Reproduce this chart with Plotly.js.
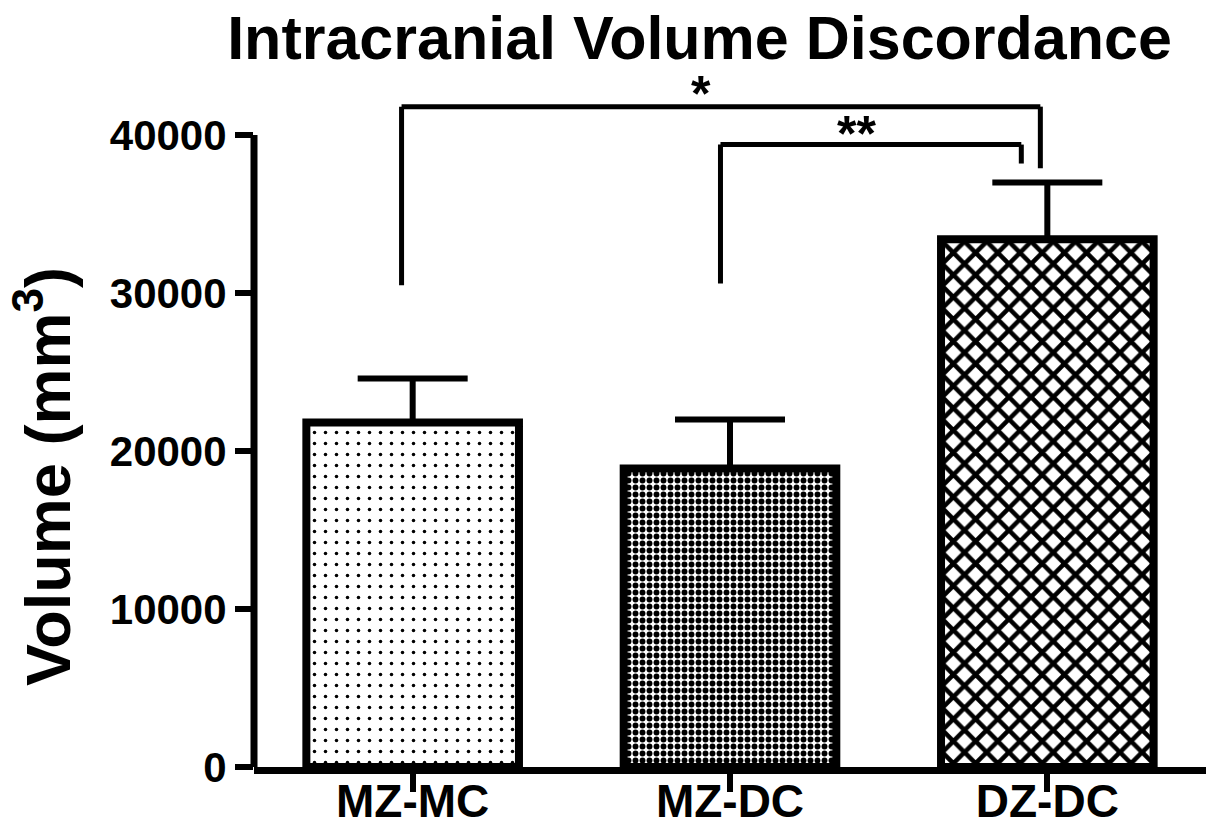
<!DOCTYPE html>
<html>
<head>
<meta charset="utf-8">
<script src="https://cdn.plot.ly/plotly-3.0.1.min.js"></script>
<style>
  html, body { margin: 0; padding: 0; background: #ffffff; }
  #chart { width: 1212px; height: 837px; }
</style>
</head>
<body>
<div id="chart"></div>
<script>
// ---- data ----
const categories = ['MZ-MC', 'MZ-DC', 'DZ-DC'];
const meanVolume = [21800, 18900, 33400];
const errorUp = [2800, 3100, 3600];
const yTickValues = [0, 10000, 20000, 30000, 40000];
const yTickLabels = ['0', '10000', '20000', '30000', '40000'];
const sigLabels = ['*', '**'];

// ---- bracket geometry (annotation layout) ----
const bracketGeom = [
  { x0: -0.035, x1: 1.978, top: 41800, leftBottom: 30500, rightBottom: 37900, labelX: 0.91, labelY: 42600 },
  { x0: 0.97, x1: 1.918, top: 39400, leftBottom: 30600, rightBottom: 38200, labelX: 1.40, labelY: 40100 }
];

const FONT = 'Liberation Sans, Arial, sans-serif';

const barTrace = {
  type: 'bar',
  x: categories,
  y: meanVolume,
  width: 0.67,
  marker: {
    color: '#ffffff',
    line: { color: '#000000', width: 8 },
    pattern: {
      shape: ['.', '.', 'x'],
      size: [11, 7, 15.7],
      solidity: [0.08, 0.55, 0.5],
      fgcolor: '#000000',
      bgcolor: '#ffffff',
      fillmode: 'replace'
    }
  },
  error_y: {
    type: 'data',
    symmetric: false,
    array: errorUp,
    arrayminus: errorUp.map(() => 0),
    color: '#000000',
    thickness: 6,
    width: 55
  },
  hoverinfo: 'none',
  showlegend: false
};

const shapes = [];
const annotations = [];
bracketGeom.forEach((b, i) => {
  const lineStyle = { color: '#000000', width: 5 };
  shapes.push({ type: 'line', xref: 'x', yref: 'y', x0: b.x0, x1: b.x1, y0: b.top, y1: b.top, line: lineStyle });
  shapes.push({ type: 'line', xref: 'x', yref: 'y', x0: b.x0, x1: b.x0, y0: b.top, y1: b.leftBottom, line: lineStyle });
  shapes.push({ type: 'line', xref: 'x', yref: 'y', x0: b.x1, x1: b.x1, y0: b.top, y1: b.rightBottom, line: lineStyle });
  annotations.push({
    xref: 'x', yref: 'y', x: b.labelX, y: b.labelY,
    text: '<b>' + sigLabels[i] + '</b>', showarrow: false,
    font: { family: FONT, size: 50, color: '#000000' },
    xanchor: 'center', yanchor: 'middle'
  });
});
// y-axis title as a rotated annotation (centred like the reference)
annotations.push({
  xref: 'paper', yref: 'y', x: -0.222, y: 18400,
  text: '<b>Volume (mm<sup>3</sup>)</b>', showarrow: false, textangle: -90,
  font: { family: FONT, size: 63, color: '#000000' },
  xanchor: 'center', yanchor: 'middle'
});
// y axis line spanning 0..40000
shapes.push({
  type: 'line', xref: 'paper', yref: 'y', x0: 0, x1: 0,
  y0: yTickValues[0], y1: yTickValues[yTickValues.length - 1],
  line: { color: '#000000', width: 7 }
});

const layout = {
  width: 1212,
  height: 837,
  paper_bgcolor: '#ffffff',
  plot_bgcolor: '#ffffff',
  margin: { l: 254, r: 6, t: 64, b: 70 },
  title: {
    text: '<b>Intracranial Volume Discordance</b>',
    font: { family: FONT, size: 61, color: '#000000' },
    xref: 'paper', x: 0.468, xanchor: 'center',
    yref: 'container', y: 0.955, yanchor: 'middle'
  },
  xaxis: {
    type: 'category',
    range: [-0.5, 2.5],
    showline: true,
    linecolor: '#000000',
    linewidth: 7,
    ticks: 'outside',
    ticklen: 18,
    tickwidth: 6,
    tickcolor: '#000000',
    ticklabelstandoff: -30,
    showgrid: false,
    zeroline: false,
    tickfont: { family: FONT, size: 46, color: '#000000' },
    tickprefix: '<b>', ticksuffix: '</b>',
    fixedrange: true
  },
  yaxis: {
    range: [0, 44500],
    showline: false,
    ticks: 'outside',
    ticklen: 18,
    tickwidth: 6,
    tickcolor: '#000000',
    tickvals: yTickValues,
    ticktext: yTickLabels.map(t => '<b>' + t + '</b>'),
    showgrid: false,
    zeroline: false,
    tickfont: { family: FONT, size: 42, color: '#000000' },
    fixedrange: true
  },
  shapes: shapes,
  annotations: annotations
};

Plotly.newPlot('chart', [barTrace], layout, { displayModeBar: false, staticPlot: true });
</script>
</body>
</html>
